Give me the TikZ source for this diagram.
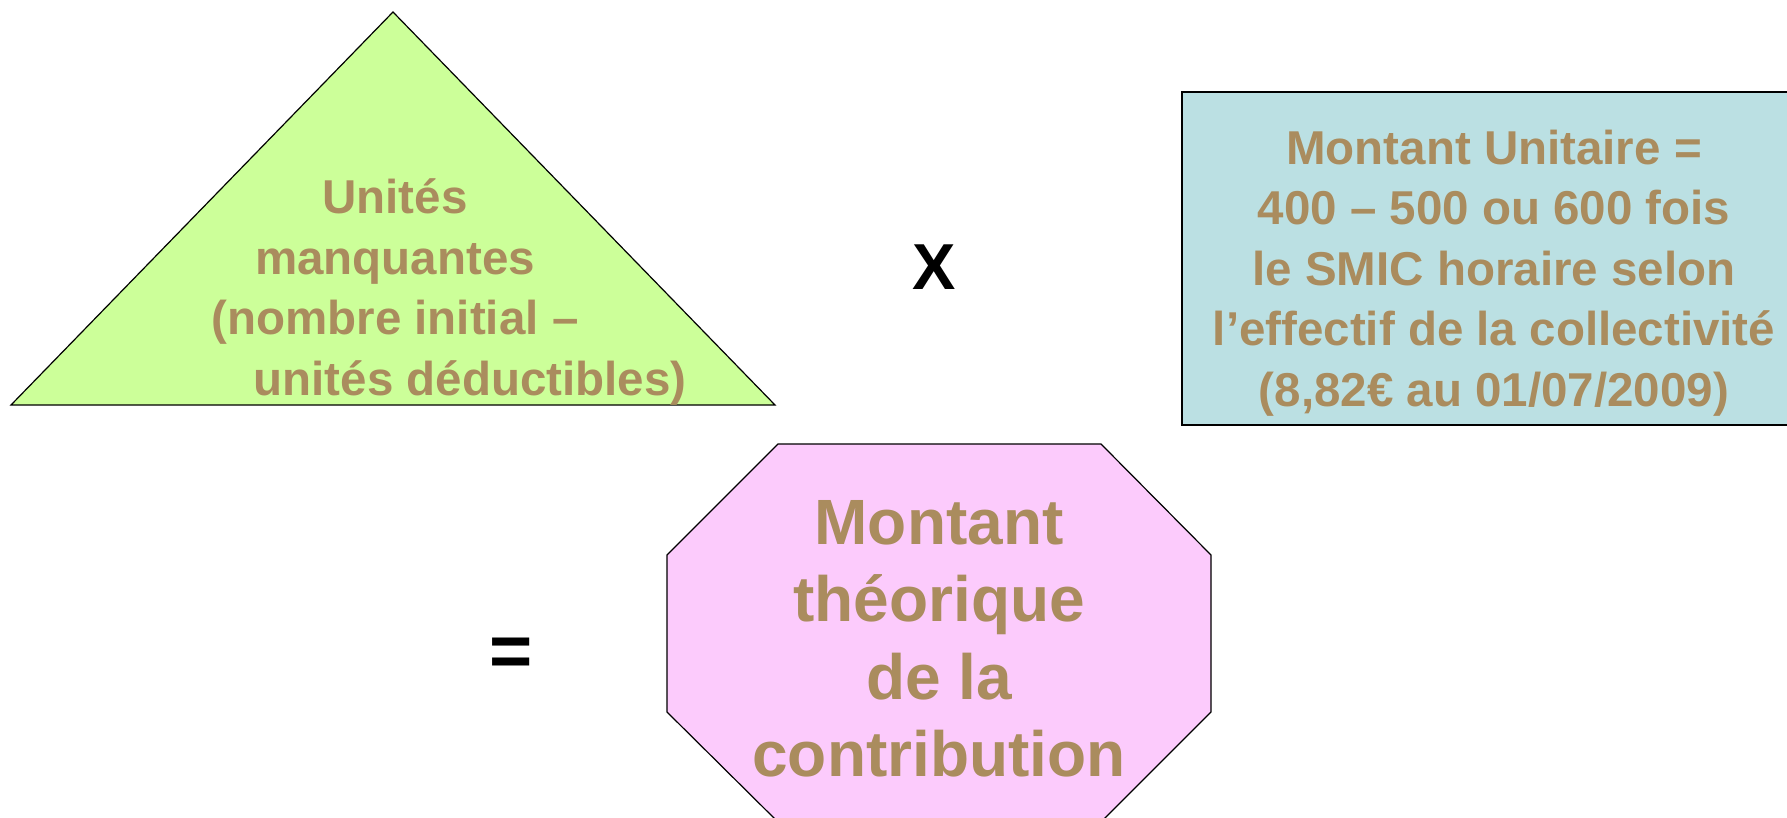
\documentclass[tikz,border=0pt]{standalone}
\usepackage{fontspec}
\setmainfont{Liberation Sans}
\definecolor{txtgold}{HTML}{AA8C5E}
\definecolor{trigreen}{HTML}{CCFF99}
\definecolor{boxblue}{HTML}{BBE0E3}
\definecolor{octpink}{HTML}{FCCBFC}
\begin{document}
\begin{tikzpicture}[x=1pt,y=-1pt,
  shapeline/.style={draw=black,line width=1.2pt,line join=miter},
  goldtext/.style={text=txtgold,font=\bfseries\fontsize{47.5}{60.5}\selectfont,align=center,inner sep=0pt},
  bigtext/.style={text=txtgold,font=\bfseries\fontsize{64}{77.5}\selectfont,align=center,inner sep=0pt},
  optext/.style={text=black,font=\bfseries\fontsize{65}{70}\selectfont,inner sep=0pt}]
\useasboundingbox (0,0) rectangle (1787,818);
\clip (0,0) rectangle (1787,818);
% triangle
\coordinate (tA) at (393,12);
\coordinate (tL) at (11,405);
\coordinate (tR) at (775,405);
\filldraw[shapeline,fill=trigreen] (tA) -- (tR) -- (tL) -- cycle;
\node[goldtext] (unites) at (395,292) {Unités\\manquantes\\(nombre initial –\\\hspace*{150pt}unités déductibles)};
% times sign
\node[optext] (times) at (934,267) {X};
% blue box
\coordinate (bTL) at (1182,92);
\coordinate (bBR) at (1806,425);
\filldraw[shapeline,fill=boxblue] (bTL) rectangle (bBR);
\node[goldtext] (montantu) at (1494,273) {Montant Unitaire =\\400 – 500 ou 600 fois\\le SMIC horaire selon\\l’effectif de la collectivité\\(8,82€ au 01/07/2009)};
% equals sign
\node[optext,font=\bfseries\fontsize{74}{80}\selectfont] (equals) at (511,657) {=};
% octagon
\coordinate (o1) at (778,444);
\coordinate (o2) at (1101,444);
\coordinate (o3) at (1211,555);
\coordinate (o4) at (1211,712);
\coordinate (o5) at (1101,822);
\coordinate (o6) at (778,822);
\coordinate (o7) at (667,712);
\coordinate (o8) at (667,555);
\filldraw[shapeline,fill=octpink] (o1) -- (o2) -- (o3) -- (o4) -- (o5) -- (o6) -- (o7) -- (o8) -- cycle;
\node[bigtext] (theo) at (939,639) {Montant\\théorique\\de la\\contribution};
\end{tikzpicture}
\end{document}
